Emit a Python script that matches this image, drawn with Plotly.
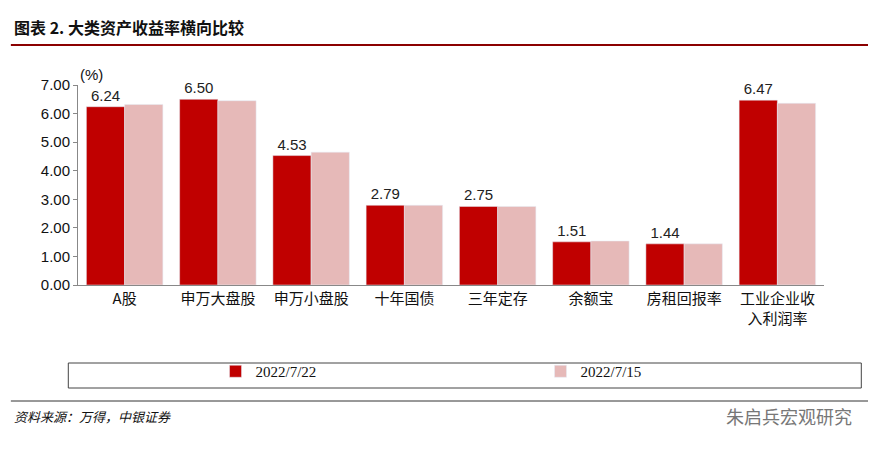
import plotly.graph_objects as go

categories = ["A股", "申万大盘股", "申万小盘股", "十年国债", "三年定存", "余额宝", "房租回报率", "工业企业收<br>入利润率"]
s_0722 = [6.24, 6.50, 4.53, 2.79, 2.75, 1.51, 1.44, 6.47]
s_0715 = [6.32, 6.45, 4.65, 2.79, 2.75, 1.54, 1.44, 6.36]
y_ticks = [0, 1, 2, 3, 4, 5, 6, 7]

cjk = "Noto Sans CJK SC"

fig = go.Figure()
fig.add_bar(x=categories, y=s_0722, name="2022/7/22", marker_color="#C00000",
            text=[f"{v:.2f}" for v in s_0722], textposition="outside",
            textfont=dict(size=15, color="#222", family="Liberation Sans"), cliponaxis=False)
fig.add_bar(x=categories, y=s_0715, name="2022/7/15", marker_color="#E6B9B8")

# plot area is 200 px tall: paper y = (277 - px) / 200
fig.update_layout(
    width=876, height=449,
    paper_bgcolor="white", plot_bgcolor="white",
    margin=dict(l=70, r=60, t=77, b=172),
    barmode="group", bargap=0.18, bargroupgap=0,
    font=dict(family=cjk, color="#111"),
    showlegend=True,
    legend=dict(orientation="h", x=0.62, xanchor="center", y=-0.35, yanchor="top",
                font=dict(size=15, family="Liberation Serif"),
                bgcolor="rgba(0,0,0,0)", entrywidth=280),
    xaxis=dict(showline=True, linecolor="#888", ticks="", tickfont=dict(size=15, family=cjk)),
    yaxis=dict(range=[0, 7], tickvals=y_ticks, tickformat=".2f", showline=True,
               linecolor="#888", ticks="outside", ticklen=4, tickcolor="#888",
               showgrid=False, tickfont=dict(size=15, family="Liberation Sans")),
)
fig.add_shape(type="rect", xref="paper", yref="paper", x0=-0.013, x1=1.05, y0=-0.39, y1=-0.515,
              line=dict(color="#444", width=1))
fig.add_annotation(text="<b>图表 2. 大类资产收益率横向比较</b>", xref="paper", yref="paper",
                   x=-0.088, y=1.22, xanchor="left", yanchor="bottom", showarrow=False,
                   font=dict(size=16, family=cjk, color="#111"))
fig.add_shape(type="line", xref="paper", yref="paper", x0=-0.09, x1=1.075, y0=1.2, y1=1.2,
              line=dict(color="#8B0000", width=2))
fig.add_annotation(text="(%)", xref="paper", yref="paper", x=0.0, y=1.0, xanchor="left",
                   yanchor="bottom", showarrow=False, font=dict(size=15, family="Liberation Sans"))
fig.add_shape(type="line", xref="paper", yref="paper", x0=-0.09, x1=1.075, y0=-0.58, y1=-0.58,
              line=dict(color="#333", width=1))
fig.add_annotation(text="<i>资料来源：万得，中银证券</i>", xref="paper", yref="paper",
                   x=-0.088, y=-0.6, xanchor="left", yanchor="top", showarrow=False,
                   font=dict(size=13, family=cjk, color="#111"))
fig.add_annotation(text="朱启兵宏观研究", xref="paper", yref="paper",
                   x=1.04, y=-0.655, xanchor="right", yanchor="middle", showarrow=False,
                   font=dict(size=18, family=cjk, color="#777"))

fig.write_html("out.html")
